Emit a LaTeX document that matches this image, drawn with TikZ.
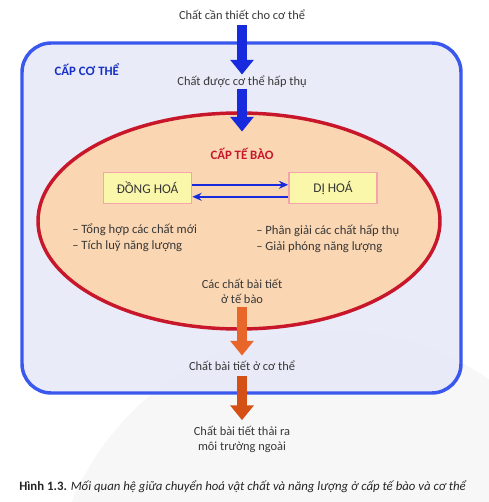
\documentclass[tikz,border=0pt]{standalone}
\usepackage{fontspec}
\setmainfont{Carlito}
\usetikzlibrary{arrows.meta}

\definecolor{bodyfill}{RGB}{231,233,248}
\definecolor{bodyline}{RGB}{58,88,238}
\definecolor{bodytext}{RGB}{22,48,200}
\definecolor{cellfill}{RGB}{250,214,178}
\definecolor{cellline}{RGB}{200,22,42}
\definecolor{boxfill}{RGB}{250,247,170}
\definecolor{boxline}{RGB}{244,164,172}
\definecolor{arrblue}{RGB}{24,42,222}
\definecolor{arrorange}{RGB}{232,102,42}
\definecolor{arrdark}{RGB}{212,80,20}
\definecolor{txt}{RGB}{55,55,55}

\tikzset{
  lbl/.style={font=\fontsize{9.3}{11.3}\selectfont, text=txt, align=center, inner sep=1pt},
  note/.style={font=\fontsize{9.5}{11.8}\selectfont, text=txt, align=left, anchor=west, inner sep=0pt},
  phase/.style={draw=boxline, line width=1.2pt, fill=boxfill, minimum width=66pt, minimum height=23pt,
    font=\fontsize{10}{12}\selectfont, text=txt},
  fat/.style={line width=7.5pt, -{Triangle[length=11pt,width=17pt]}},
  thin/.style={draw=arrblue, line width=1.4pt, -{Stealth[length=7pt,width=6pt]}}
}

\begin{document}
\begin{tikzpicture}[x=0.75pt,y=-0.75pt]
\useasboundingbox (0,0) rectangle (488,502);
\fill[white] (0,0) rectangle (488,502);
% faint background disc
\fill[gray!60, opacity=0.1] (330,610) circle (280);

% body level
\draw[bodyline, line width=2.6pt, fill=bodyfill, fill opacity=0.9, rounded corners=22pt]
  (22,43) rectangle (461,393);
\node[anchor=west, font=\bfseries\fontsize{9.6}{11}\selectfont, text=bodytext] (bodylvl) at (50,70) {CẤP CƠ THỂ};

% cell level
\draw[cellline, line width=2.6pt, fill=cellfill] (239,221) ellipse [x radius=201, y radius=108];
\node[font=\bfseries\fontsize{9.6}{11}\selectfont, text=cellline] (celllvl) at (242,154) {CẤP TẾ BÀO};

% texts along the main flow
\node[lbl] (need) at (242,15) {Chất cần thiết cho cơ thể};
\node[lbl] (absorbed) at (242,82) {Chất được cơ thể hấp thụ};
\node[lbl] (cellwaste) at (242,291) {Các chất bài tiết\\ở tế bào};
\node[lbl] (bodywaste) at (242,366) {Chất bài tiết ở cơ thể};
\node[lbl] (outwaste) at (242,439) {Chất bài tiết thải ra\\môi trường ngoài};

% anabolism / catabolism
\node[phase] (anab) at (147.5,188) {ĐỒNG HOÁ};
\node[phase] (catab) at (333,188) {DỊ HOÁ};
\draw[thin] ([yshift=2.4pt]anab.east) -- ([yshift=2.4pt]catab.west);
\draw[thin] ([yshift=-6.6pt]catab.east -| catab.west) -- ([yshift=-6.6pt]anab.east);

\node[note] (anabnote) at (72,238) {– Tổng hợp các chất mới\\– Tích luỹ năng lượng};
\node[note] (catabnote) at (256,239) {– Phân giải các chất hấp thụ\\– Giải phóng năng lượng};

% fat arrows
\draw[fat, arrblue, shorten <=3pt] (need.south) -- (absorbed.north);
\draw[fat, arrblue, shorten >=9pt] (absorbed.south) -- (celllvl.north);
\draw[fat, arrorange, shorten <=2pt, shorten >=3pt] (cellwaste.south) -- (bodywaste.north);
\draw[fat, arrdark, shorten <=3pt, shorten >=3pt] (bodywaste.south) -- (outwaste.north);

% caption
\node[font=\fontsize{9.6}{11}\selectfont, text=black!85] (caption) at (243,487)
  {\textbf{Hình 1.3.} \textit{Mối quan hệ giữa chuyển hoá vật chất và năng lượng ở cấp tế bào và cơ thể}};
\end{tikzpicture}
\end{document}
